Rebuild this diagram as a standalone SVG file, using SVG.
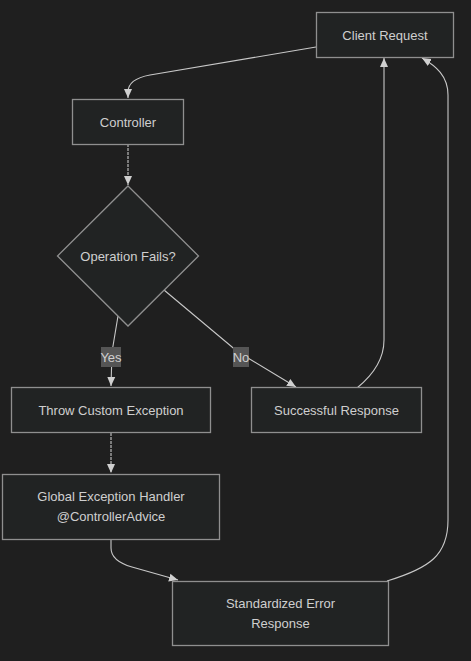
<svg xmlns="http://www.w3.org/2000/svg" width="471" height="661" viewBox="0 0 471 661">
<defs>
<style>
.node rect,.node polygon{fill:#212323;stroke:#8f8f8f;stroke-width:1.3}
.lbl{font-family:"Liberation Sans",Arial,sans-serif;font-size:13px;fill:#cfcfcf;text-anchor:middle}
.edge{fill:none;stroke:#c8c8c8;stroke-width:1.1}
.elbl rect{fill:#555555}
</style>
<marker id="arr" markerWidth="10" markerHeight="10" refX="9" refY="5" orient="auto" markerUnits="userSpaceOnUse">
<path d="M0,1 L9,5 L0,9 Z" fill="#d0d0d0"/>
</marker>
</defs>
<rect width="471" height="661" fill="#1f1f1f"/>
<g id="edges">
<path class="edge" d="M316,47 L150,75 Q128,79 128,92 L128,98" marker-end="url(#arr)"/>
<path class="edge" d="M128,144 L128,185" marker-end="url(#arr)" stroke-dasharray="3,1" stroke="#b0b0b0"/>
<path class="edge" d="M118,316 L112,352 L111,386" marker-end="url(#arr)"/>
<path class="edge" d="M164,290 L238,352 L296,387" marker-end="url(#arr)"/>
<path class="edge" d="M111,433 L111,473" marker-end="url(#arr)" stroke-dasharray="3,1" stroke="#b0b0b0"/>
<path class="edge" d="M111,540 L111,548 Q111,561 132,567 L178,580" marker-end="url(#arr)"/>
<path class="edge" d="M357,388 Q384,366 384,340 L384,58" marker-end="url(#arr)"/>
<path class="edge" d="M387,581 C430,568 448,555 448,520 L448,95 C448,76 436,66 422,58" marker-end="url(#arr)"/>
</g>
<g id="label-yes" class="elbl"><rect x="101" y="347" width="20" height="20"/><text class="lbl" x="111" y="361.5">Yes</text></g>
<g id="label-no" class="elbl"><rect x="233" y="347" width="16" height="20"/><text class="lbl" x="241" y="361.5">No</text></g>
<g id="client-request" class="node"><rect x="316.5" y="12.5" width="137" height="45"/><text class="lbl" x="385" y="39.5">Client Request</text></g>
<g id="controller" class="node"><rect x="72.5" y="99.5" width="111" height="45"/><text class="lbl" x="128" y="126.5">Controller</text></g>
<g id="operation-fails" class="node"><polygon points="128,186 198.5,256 128,326 57.5,256"/><text class="lbl" x="128" y="260.5">Operation Fails?</text></g>
<g id="throw-custom-exception" class="node"><rect x="11.5" y="387.5" width="199" height="45"/><text class="lbl" x="111" y="414.5">Throw Custom Exception</text></g>
<g id="successful-response" class="node"><rect x="251.5" y="387.5" width="170" height="45"/><text class="lbl" x="336.5" y="414.5">Successful Response</text></g>
<g id="global-exception-handler" class="node"><rect x="2.5" y="474.5" width="217" height="65"/><text class="lbl" x="111" y="501">Global Exception Handler</text><text class="lbl" x="111" y="521">@ControllerAdvice</text></g>
<g id="standardized-error-response" class="node"><rect x="172.5" y="581.5" width="216" height="64"/><text class="lbl" x="280.5" y="608">Standardized Error</text><text class="lbl" x="280.5" y="628">Response</text></g>
</svg>
